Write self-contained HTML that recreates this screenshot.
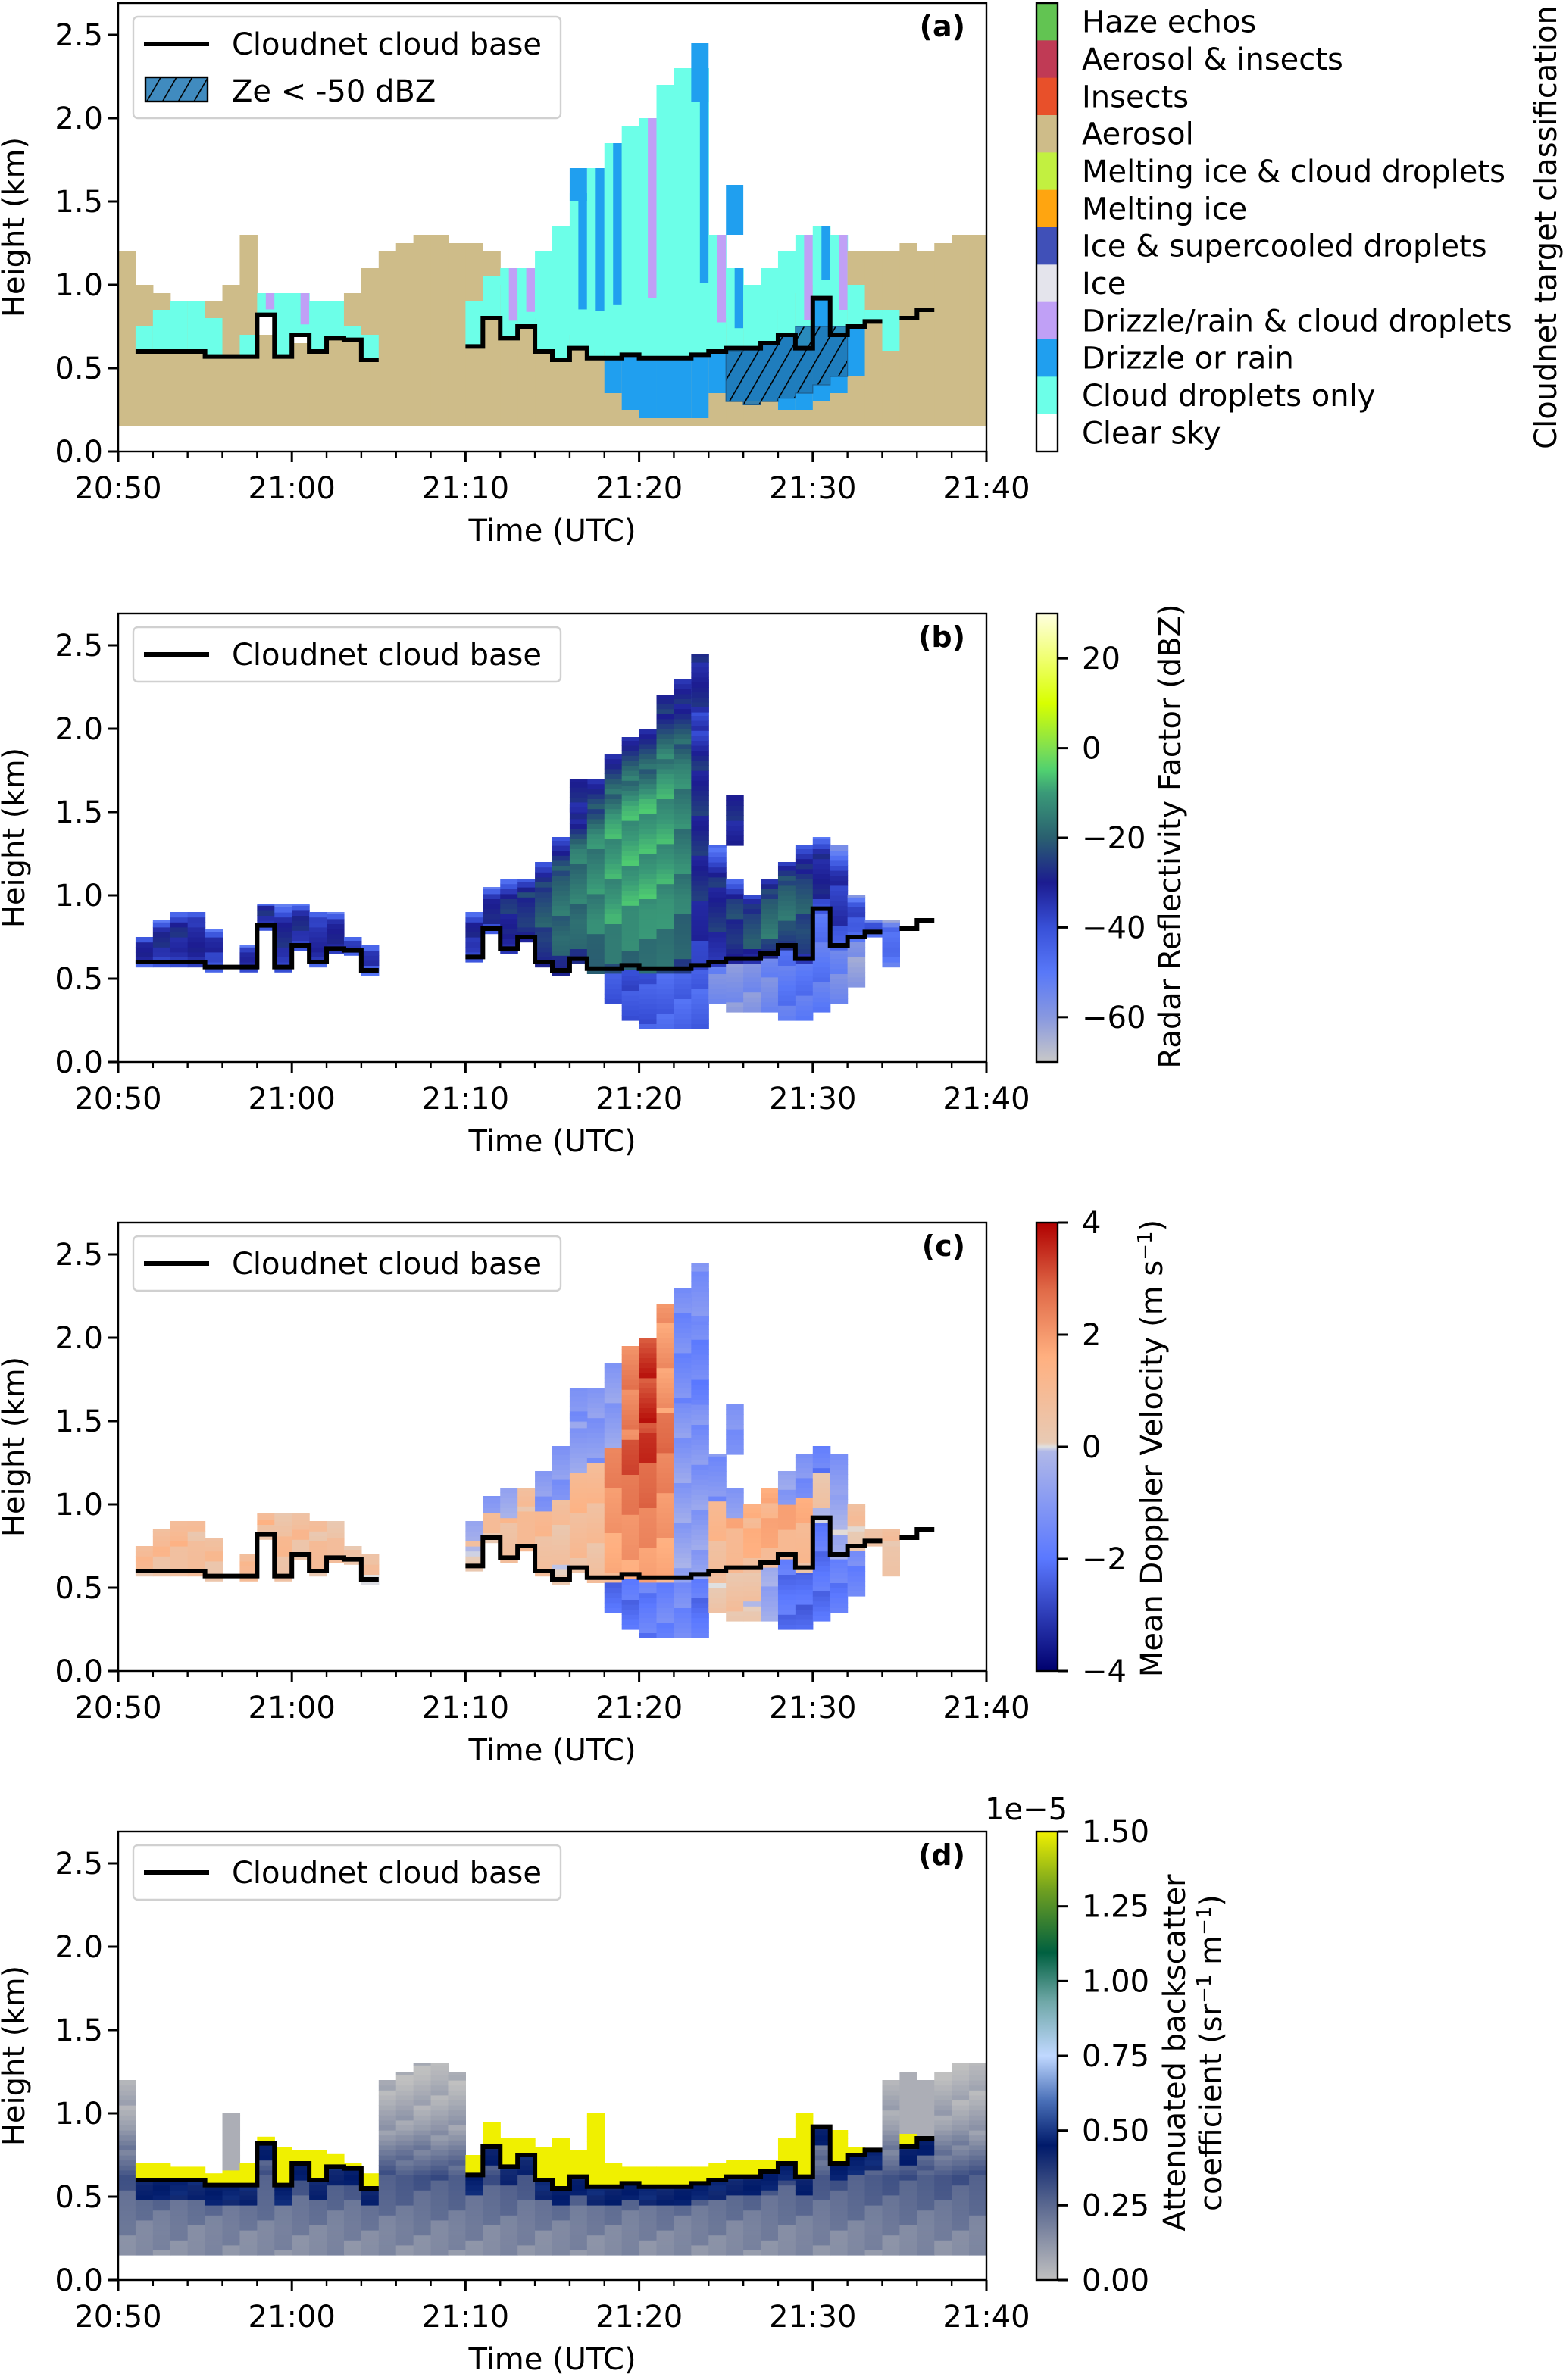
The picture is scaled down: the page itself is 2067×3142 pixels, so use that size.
<!DOCTYPE html>
<html><head><meta charset="utf-8">
<style>
html,body{margin:0;padding:0;background:#fff;}
svg{display:block;font-family:"DejaVu Sans","Liberation Sans",sans-serif;}
</style></head>
<body>
<svg id="fig" xmlns="http://www.w3.org/2000/svg" width="2067" height="3142" viewBox="0 0 1033.5 1571">
<defs>
<pattern id="hatch" patternUnits="userSpaceOnUse" width="9" height="9" patternTransform="rotate(30)">
<rect width="9" height="9" fill="#1f77b4" fill-opacity="0.85"/>
<line x1="0" y1="0" x2="0" y2="9" stroke="#000" stroke-width="1.6"/>
</pattern>
<linearGradient id="gb" x1="0" y1="1" x2="0" y2="0">
<stop offset="0" stop-color="#c8c8c8"/><stop offset="0.1" stop-color="#8898e0"/><stop offset="0.2" stop-color="#5878f8"/><stop offset="0.3" stop-color="#3850d8"/><stop offset="0.4" stop-color="#1c1c90"/><stop offset="0.5" stop-color="#2a6070"/><stop offset="0.6" stop-color="#3a9a78"/><stop offset="0.65" stop-color="#50d070"/><stop offset="0.7" stop-color="#80e050"/><stop offset="0.8" stop-color="#d8ff00"/><stop offset="0.9" stop-color="#f0ff70"/><stop offset="1" stop-color="#ffffe0"/>
</linearGradient>
<linearGradient id="gc" x1="0" y1="1" x2="0" y2="0">
<stop offset="0" stop-color="#00006e"/><stop offset="0.25" stop-color="#5a78ff"/><stop offset="0.49" stop-color="#b0b8e8"/><stop offset="0.5" stop-color="#e0e0e0"/><stop offset="0.51" stop-color="#e8cab4"/><stop offset="0.7" stop-color="#ffb080"/><stop offset="0.85" stop-color="#e06a48"/><stop offset="1" stop-color="#b00000"/>
</linearGradient>
<linearGradient id="gd" x1="0" y1="1" x2="0" y2="0">
<stop offset="0" stop-color="#c0c0c0"/><stop offset="0.167" stop-color="#5a6890"/><stop offset="0.3" stop-color="#001a6a"/><stop offset="0.4" stop-color="#4a70b8"/><stop offset="0.5" stop-color="#c0d8ff"/><stop offset="0.62" stop-color="#70a8a8"/><stop offset="0.73" stop-color="#006040"/><stop offset="0.87" stop-color="#70a020"/><stop offset="1" stop-color="#f0f000"/>
</linearGradient>
</defs>
<g id="layer"></g>
</svg>
<script>
// ---- data (per minute, minute index m => 20:50 + m) ----
const minutes = 50;
const cloudBase = [null,0.6,0.6,0.6,0.6,0.57,0.57,0.57,0.82,0.57, 0.7,0.6,0.68,0.67,0.55,null,null,null,null,null, 0.63,0.8,0.68,0.75,0.6,0.55,0.62,0.56,0.56,0.58, 0.56,0.56,0.56,0.58,0.6,0.62,0.62,0.65,0.7,0.62, 0.92,0.7,0.75,0.78,null,0.8,0.85,null,null,null];
const aerosolTop = [1.2,1.0,0.95,0.9,0.9,0.9,1.0,1.3,0.7,0.65, 0.65,0.7,0.8,0.95,1.1,1.2,1.25,1.3,1.3,1.25, 1.25,1.2,1.0,0.9,0.8,0.7,0.7,0.65,0.6,0.6, 0.6,0.6,0.6,0.6,0.6,0.8,0.9,0.9,0.85,0.95, 1.0,1.05,1.2,1.2,1.2,1.25,1.2,1.25,1.3,1.3];
const cloudTop = [0,0.75,0.85,0.9,0.9,0.8,0,0.7,0.95,0.95, 0.95,0.9,0.9,0.75,0.7,0,0,0,0,0, 0.9,1.05,1.1,1.1,1.2,1.35,1.55,1.7,1.85,1.95, 2.0,2.2,2.3,2.3,1.3,1.1,1.0,1.1,1.2,1.3, 1.35,1.3,1.0,0.85,0.85,0,0,0,0,0];
const cloudClass = ['L','L','L','L','L','L','L','L','P','L', 'P','L','L','L','L','L','L','L','L','L', 'L','L','P','P','L','L','D','D','D','L', 'P','L','L','D','P','D','L','L','L','P', 'D','P','L','L','L','L','L','L','L','L'];
const precipBottom = [null,null,null,null,null,null,null,null,null,null, null,null,null,null,null,null,null,null,null,null, null,null,null,null,null,null,null,null,0.35,0.25, 0.2,0.2,0.2,0.2,0.35,0.3,0.3,0.3,0.25,0.25, 0.3,0.35,0.45,null,null,null,null,null,null,null];
const hatchMinutes = [35,36,37,38,39,40,41];
const hatchBottom = [0.3,0.28,0.3,0.32,0.35,0.4,0.45];
const hatchTop = [0.6,0.62,0.65,0.7,0.75,0.75,0.75];
const blobMinute = [26,33,35];
const blobBottom = [1.5,2.1,1.3];
const blobTop = [1.7,2.45,1.6];
const zeCloud = [null,-32,-30,-30,-30,-34,-35,-33,-30,-30, -30,-32,-30,-33,-36,null,null,null,null,null, -32,-30,-28,-25,-22,-18,-16,-13,-10,-9, -9,-10,-14,-28,-28,-25,-22,-18,-18,-22, -30,-35,-40,-40,-45,null,null,null,null,null];
const zeBelow = [null,null,null,null,null,null,null,null,null,null, null,null,null,null,null,null,null,null,null,null, null,null,null,null,null,null,null,null,-42,-40, -42,-45,-45,-45,-55,-58,-58,-55,-50,-50, -50,-55,-60,null,null,null,null,null,null,null];
const vCloud = [null,1.0,1.0,1.0,0.9,0.8,0.8,1.0,1.0,0.9, 0.9,1.0,0.8,0.8,0.6,null,null,null,null,null, 0.3,0.8,0.8,1.2,1.0,0.6,1.2,1.0,2.5,3.2, 3.4,2.8,-1.0,-1.2,1.2,1.4,1.6,1.8,1.8,1.4, 0.4,-0.4,0.4,0.6,0.6,null,null,null,null,null];
const vTop = [null,0.8,0.8,0.8,0.6,0.6,0.6,0.8,0.6,0.6, 0.6,0.5,0.5,0.5,0.4,null,null,null,null,null, -0.6,-0.8,-0.5,0.6,-1.0,-1.0,-0.8,-1.0,-0.8,2.5, 3.5,2.0,-1.4,-1.6,-1.2,-0.8,1.2,1.4,-0.8,-1.2, -1.8,-1.0,0.6,0.5,0.5,null,null,null,null,null];
const vBelow = [null,null,null,null,null,null,null,null,null,null, null,null,null,null,null,null,null,null,null,null, null,null,null,null,null,null,null,null,-2.2,-2.0, -1.8,-1.6,-1.4,-2.0,0.4,0.5,0.3,-0.5,-2.0,-2.2, -2.0,-1.8,-1.5,null,null,null,null,null,null,null];
const lidarTop = [null,0.7,0.7,0.68,0.68,0.64,0.66,0.7,0.86,0.8, 0.78,0.78,0.76,0.7,0.64,null,null,null,null,null, 0.75,0.95,0.85,0.85,0.8,0.85,0.78,1.0,0.7,0.68, 0.68,0.68,0.68,0.68,0.7,0.72,0.72,0.72,0.85,1.0, 0.8,0.9,0.8,0.75,null,0.88,0.86,null,null,null];
const betaLevels = [0.15,0.3,0.45,0.6,0.75,0.9,1.05,1.2];
const betaValues = [0.14,0.18,0.24,0.3,0.2,0.1,0.06,0.03];
const yTicks = [0.0,0.5,1.0,1.5,2.0,2.5];
const xTickLabels = ['20:50','21:00','21:10','21:20','21:30','21:40'];
const classNames = ['Haze echos','Aerosol & insects','Insects','Aerosol','Melting ice & cloud droplets','Melting ice','Ice & supercooled droplets','Ice','Drizzle/rain & cloud droplets','Drizzle or rain','Cloud droplets only','Clear sky'];
const classColors = ['#62c452','#c03a55','#e8502a','#cebc89','#c2f040','#ffa510','#4050b8','#e4e4ec','#c0a0f6','#209fef','#6cffe8','#ffffff'];
const zeTicks = [-60,-40,-20,0,20];
const vTicks = [-4,-2,0,2,4];
const bTicks = ['0.00','0.25','0.50','0.75','1.00','1.25','1.50'];

// ---- layout ----
const NS='http://www.w3.org/2000/svg';
const layer=document.getElementById('layer');
const L=78,R=651,PXMIN=(R-L)/50,KM=110,PH=296,FS=20;
const bases=[298,701,1103,1505];
const BIN=0.03;
function X(m){return L+m*PXMIN;}
function Y(p,km){return bases[p]-km*KM;}
function mk(tag,attrs,parent){const e=document.createElementNS(NS,tag);for(const k in attrs)e.setAttribute(k,attrs[k]);(parent||layer).appendChild(e);return e;}
function hex(c){return [parseInt(c.slice(1,3),16),parseInt(c.slice(3,5),16),parseInt(c.slice(5,7),16)];}
function cmap(stops,cols,v){if(v<=stops[0])return cols[0];for(let i=1;i<stops.length;i++){if(v<=stops[i]){const t=(v-stops[i-1])/(stops[i]-stops[i-1]);const a=hex(cols[i-1]),b=hex(cols[i]);return 'rgb('+a.map((x,j)=>Math.round(x+(b[j]-x)*t)).join(',')+')';}}return cols[cols.length-1];}
const zeS=[-70,-60,-50,-40,-30,-20,-10,-5,0,10,20,30],zeC=['#c8c8c8','#8898e0','#5878f8','#3850d8','#1c1c90','#2a6070','#3a9a78','#50d070','#80e050','#d8ff00','#f0ff70','#ffffe0'];
const vS=[-4,-2,-0.05,0,0.05,1.5,3,4],vC=['#00006e','#5a78ff','#b0b8e8','#e0e0e0','#e8cab4','#ffb080','#e06a48','#b00000'];
const bS=[0,0.25,0.45,0.6,0.75,0.93,1.1,1.3,1.5],bC=['#c0c0c0','#5a6890','#001a6a','#4a70b8','#c0d8ff','#70a8a8','#006040','#70a020','#f0f000'];
function tex(m,k){return (((m*73+k*151)%17)/17-0.5);}
function betaAt(h){for(let i=1;i<betaLevels.length;i++){if(h<=betaLevels[i]){const t=(h-betaLevels[i-1])/(betaLevels[i]-betaLevels[i-1]);return betaValues[i-1]+(betaValues[i]-betaValues[i-1])*t;}}return betaValues[betaValues.length-1];}

function cells(p,m,h0,h1,fn,grp){
  for(let h=h0;h<h1-1e-6;h+=BIN){
    const top=Math.min(h+BIN,h1);
    const r=mk('rect',{x:X(m).toFixed(2),y:Y(p,top).toFixed(2),width:(PXMIN+0.3).toFixed(2),height:((top-h)*KM+0.3).toFixed(2),fill:fn(h,Math.round(h/BIN))},grp);
    
    
  }
}
function baseOf(m){return cloudBase[m]!=null?cloudBase[m]:0.6;}

// ---- panel a ----
const ga=mk('g',{});


for(let m=0;m<minutes;m++){
  const r=mk('rect',{x:X(m),y:Y(0,aerosolTop[m]),width:PXMIN+0.3,height:(aerosolTop[m]-0.15)*KM,fill:classColors[3]},ga);
  
  
  if(cloudTop[m]>0){
    const b=baseOf(m);
    const c=mk('rect',{x:X(m),y:Y(0,cloudTop[m]),width:PXMIN+0.3,height:(cloudTop[m]-b)*KM,fill:classColors[10]},ga);
    
    
    if(cloudClass[m]!=='L'){
      const col=cloudClass[m]==='P'?classColors[8]:classColors[9];
      const s=mk('rect',{x:X(m)+PXMIN*0.5,y:Y(0,cloudTop[m]),width:PXMIN*0.5,height:(cloudTop[m]-b)*KM*0.75,fill:col},ga);
      
      
    }
  }
  if(precipBottom[m]!=null){
    const pr=mk('rect',{x:X(m),y:Y(0,baseOf(m)),width:PXMIN+0.3,height:(baseOf(m)-precipBottom[m])*KM,fill:classColors[9]},ga);
    
    
  }
}
for(let i=0;i<blobMinute.length;i++){
  const m=blobMinute[i];
  const b=mk('rect',{x:X(m),y:Y(0,blobTop[i]),width:PXMIN,height:(blobTop[i]-blobBottom[i])*KM,fill:classColors[9]},ga);
  
  
}
let hp='';
for(let i=0;i<hatchMinutes.length;i++){const m=hatchMinutes[i];hp+=(i?'L':'M')+X(m)+','+Y(0,hatchTop[i])+'L'+X(m+1)+','+Y(0,hatchTop[i]);}
for(let i=hatchMinutes.length-1;i>=0;i--){const m=hatchMinutes[i];hp+='L'+X(m+1)+','+Y(0,hatchBottom[i])+'L'+X(m)+','+Y(0,hatchBottom[i]);}
const hatchEl=mk('path',{d:hp+'Z',fill:'url(#hatch)',stroke:'#1f5f90','stroke-width':0.6},ga);



// ---- panel b ----
const gb=mk('g',{});


for(let m=0;m<minutes;m++){
  if(cloudTop[m]>0&&zeCloud[m]!=null){
    const b=baseOf(m)-0.03,t=cloudTop[m];
    cells(1,m,b,t,(h,k)=>{const f=(h-b)/(t-b);let v=zeCloud[m]-22*Math.max(0,f-0.7)/0.3-10*Math.max(0,0.25-f)/0.25+8*tex(m,k);return cmap(zeS,zeC,v);},gb);
  }
  if(precipBottom[m]!=null&&zeBelow[m]!=null){
    cells(1,m,precipBottom[m],baseOf(m)-0.03,(h,k)=>cmap(zeS,zeC,zeBelow[m]+8*tex(m,k)),gb);
  }
}
for(let i=0;i<blobMinute.length;i++){cells(1,blobMinute[i],blobBottom[i],blobTop[i],(h,k)=>cmap(zeS,zeC,-30+8*tex(i,k)),gb);}

// ---- panel c ----
const gc=mk('g',{});


for(let m=0;m<minutes;m++){
  if(cloudTop[m]>0&&vCloud[m]!=null){
    const b=baseOf(m)-0.03,t=cloudTop[m];
    cells(2,m,b,t,(h,k)=>{const f=(h-b)/(t-b);const v=(f>0.6?vTop[m]:vCloud[m]*(0.5+f))+0.8*tex(m,k);return cmap(vS,vC,v);},gc);
  }
  if(precipBottom[m]!=null&&vBelow[m]!=null){
    cells(2,m,precipBottom[m],baseOf(m)-0.03,(h,k)=>cmap(vS,vC,vBelow[m]+0.8*tex(m,k)),gc);
  }
}
for(let i=0;i<blobMinute.length;i++){cells(2,blobMinute[i],blobBottom[i],blobTop[i],(h,k)=>cmap(vS,vC,-1.2+0.6*tex(i,k)),gc);}

// ---- panel d ----
const gd=mk('g',{});


for(let m=0;m<minutes;m++){
  const hasCloud=lidarTop[m]!=null&&cloudBase[m]!=null;
  const b=cloudBase[m];
  const topA=hasCloud?b:aerosolTop[m];
  cells(3,m,0.15,topA,(h,k)=>{let v=betaAt(h);if(hasCloud&&h>b-0.12)v=0.45;return cmap(bS,bC,Math.max(0,v+0.08*tex(m,k)));},gd);
  if(hasCloud){
    cells(3,m,b,lidarTop[m],(h,k)=>cmap(bS,bC,1.5),gd);
    if(aerosolTop[m]>lidarTop[m]+0.2&&cloudTop[m]===0){cells(3,m,lidarTop[m],aerosolTop[m],(h,k)=>cmap(bS,bC,0.05),gd);}
  }
}

// ---- cloud base lines ----
function basePath(p){let d='';let prev=null;for(let m=0;m<minutes;m++){const v=cloudBase[m];if(v==null){prev=null;continue;}const y=Y(p,v);if(prev==null)d+='M'+X(m)+','+y;else d+='L'+X(m)+','+y;d+='L'+X(m+1)+','+y;prev=v;}return d;}
for(let p=0;p<4;p++){
  const ln=mk('path',{d:basePath(p),fill:'none',stroke:'#000','stroke-width':3,'stroke-linejoin':'miter'});
  
  
}

// ---- axes ----
const panelLetters=['(a)','(b)','(c)','(d)'];
for(let p=0;p<4;p++){
  const top=bases[p]-PH;
  const fr=mk('rect',{x:L,y:top,width:R-L,height:PH,fill:'none',stroke:'#000','stroke-width':1.2});
  
  
  yTicks.forEach(v=>{
    const y=Y(p,v);
    const t=mk('line',{x1:L-7,x2:L,y1:y,y2:y,stroke:'#000','stroke-width':1.5});
    
    
    const tx=mk('text',{x:L-10,y:y+7,'text-anchor':'end','font-size':FS});
    tx.textContent=v.toFixed(1);
    
    
  });
  for(let mm=0;mm<=50;mm+=2){
    const major=mm%10===0;
    const t=mk('line',{x1:X(mm),x2:X(mm),y1:bases[p],y2:bases[p]+(major?7:4),stroke:'#000','stroke-width':major?1.5:1.2});
    
    
  }
  xTickLabels.forEach((s,i)=>{
    const tx=mk('text',{x:X(i*10),y:bases[p]+31,'text-anchor':'middle','font-size':FS});
    tx.textContent=s;
    
    
  });
  const xl=mk('text',{x:(L+R)/2,y:bases[p]+59,'text-anchor':'middle','font-size':FS});
  xl.textContent='Time (UTC)';
  
  
  const yl=mk('text',{x:0,y:0,'text-anchor':'middle','font-size':FS,transform:'translate(16,'+(bases[p]-148)+') rotate(-90)'});
  yl.textContent='Height (km)';
  
  
  const pl=mk('text',{x:637,y:top+22,'text-anchor':'end','font-size':19,'font-weight':'bold'});
  pl.textContent=panelLetters[p];
  
  
  const lh=p===0?67:36;
  const lg=mk('g',{});
  
  
  mk('rect',{x:88,y:top+9,width:282,height:lh,rx:3,fill:'#fff','fill-opacity':0.85,stroke:'#d0d0d0','stroke-width':1.2},lg);
  const ls=mk('line',{x1:95,x2:138,y1:top+27,y2:top+27,stroke:'#000','stroke-width':3},lg);
  
  
  const lt=mk('text',{x:153,y:top+34,'font-size':FS},lg);
  lt.textContent='Cloudnet cloud base';
  
  
  if(p===0){
    const hs=mk('rect',{x:96,y:top+49,width:41,height:16,fill:'url(#hatch)',stroke:'#000','stroke-width':1.2},lg);
    
    
    const ht=mk('text',{x:153,y:top+65,'font-size':FS},lg);
    ht.textContent='Ze < -50 dBZ';
    
    
  }
}

// ---- colorbars ----
const CX=684,CW=14;
const catH=PH/classNames.length;
classNames.forEach((n,i)=>{
  const y=2+i*catH;
  const r=mk('rect',{x:CX,y:y,width:CW,height:catH+0.2,fill:classColors[i]});
  
  
  const t=mk('text',{x:714,y:y+catH/2+7,'font-size':FS});
  t.textContent=n;
  
  
});
function cbFrame(p){const f=mk('rect',{x:CX,y:bases[p]-PH,width:CW,height:PH,fill:'none',stroke:'#000','stroke-width':1.2});}
cbFrame(0);
const la=mk('text',{x:0,y:0,'text-anchor':'middle','font-size':FS,transform:'translate(1027,150) rotate(-90)'});
la.textContent='Cloudnet target classification';


function contBar(p,grad,vmin,vmax,ticks,labels){
  const top=bases[p]-PH;
  const r=mk('rect',{x:CX,y:top,width:CW,height:PH,fill:'url(#'+grad+')'});
  
  
  cbFrame(p);
  ticks.forEach((v,i)=>{
    const y=bases[p]-(v-vmin)/(vmax-vmin)*PH;
    const t=mk('line',{x1:CX+CW,x2:CX+CW+7,y1:y,y2:y,stroke:'#000','stroke-width':1.5});
    
    
    const tx=mk('text',{x:714,y:y+7,'font-size':FS});
    tx.textContent=labels[i];
    
    
  });
}
contBar(1,'gb',-70,30,zeTicks,zeTicks.map(v=>v<0?'\u2212'+(-v):String(v)));
contBar(2,'gc',-4,4,vTicks,vTicks.map(v=>v<0?'\u2212'+(-v):String(v)));
contBar(3,'gd',0,1.5,bTicks.map(Number),bTicks);
function rotText(x,y,s,name){const t=mk('text',{x:0,y:0,'text-anchor':'middle','font-size':FS,transform:'translate('+x+','+y+') rotate(-90)'});t.textContent=s;return t;}
rotText(779,552,'Radar Reflectivity Factor (dBZ)','colorbar-title');
const tc=rotText(767,956,'','colorbar-title');
tc.innerHTML='Mean Doppler Velocity (m s<tspan dy="-7" font-size="13">\u22121</tspan><tspan dy="7">)</tspan>';
rotText(782,1355,'Attenuated backscatter','colorbar-title');
const td=rotText(806,1355,'','colorbar-title');
td.innerHTML='coefficient (sr<tspan dy="-7" font-size="13">\u22121</tspan><tspan dy="7"> m</tspan><tspan dy="-7" font-size="13">\u22121</tspan><tspan dy="7">)</tspan>';
const off=mk('text',{x:650,y:1201,'font-size':FS});
off.textContent='1e\u22125';


</script>
</body></html>
